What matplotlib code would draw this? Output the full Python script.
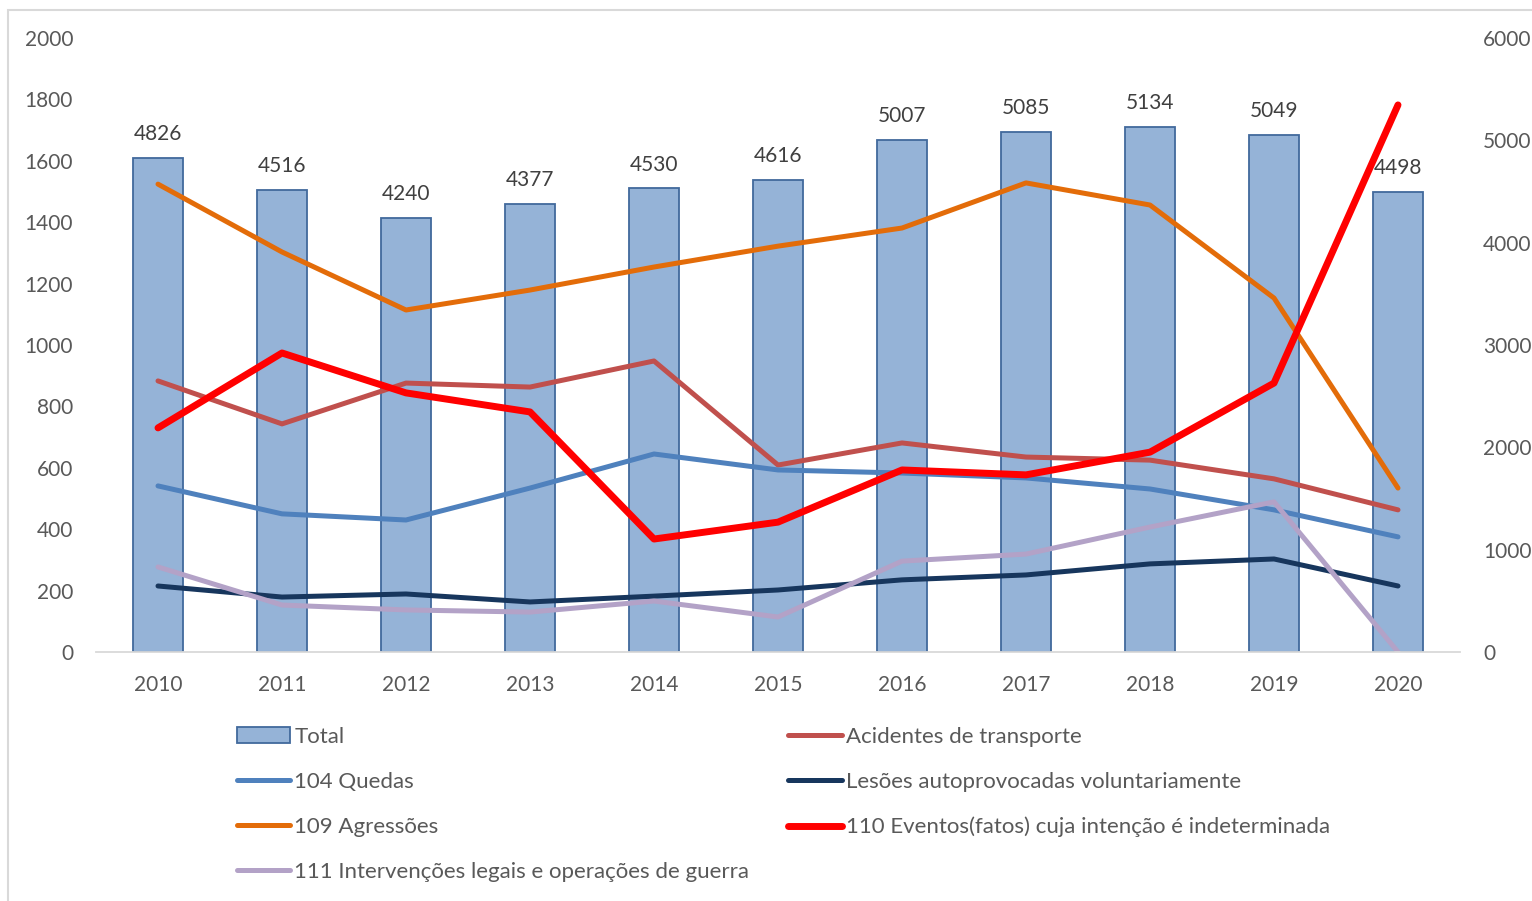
import matplotlib
matplotlib.use("Agg")
import matplotlib.pyplot as plt
from matplotlib.patches import Rectangle
import numpy as np

plt.rcParams['font.family'] = ['Lato', 'DejaVu Sans']

years = ["2010", "2011", "2012", "2013", "2014", "2015", "2016", "2017", "2018", "2019", "2020"]
total = [4826, 4516, 4240, 4377, 4530, 4616, 5007, 5085, 5134, 5049, 4498]
acidentes = [883, 743, 876, 863, 948, 609, 681, 635, 625, 564, 463]
quedas = [541, 450, 430, 534, 645, 593, 583, 567, 531, 463, 375]
lesoes = [215, 179, 189, 163, 182, 202, 235, 251, 287, 303, 215]
agressoes = [1524, 1303, 1114, 1179, 1254, 1322, 1381, 1528, 1456, 1153, 534]
eventos = [730, 974, 844, 782, 368, 423, 593, 577, 651, 876, 1782]
intervencoes = [277, 153, 137, 130, 166, 114, 296, 319, 407, 489, 0]

left_ticks = [0, 200, 400, 600, 800, 1000, 1200, 1400, 1600, 1800, 2000]
right_ticks = [0, 1000, 2000, 3000, 4000, 5000, 6000]

TXT = '#595959'
FS = 15
LFS = 16

fig = plt.figure(figsize=(15.32, 9.01), dpi=100)
ax = fig.add_axes([96/1532, 1-652/901, (1460-96)/1532, (652-38)/901])
ax2 = ax.twinx()

x = np.arange(len(years))
ax2.bar(x, total, width=0.4, color='#95B3D7', edgecolor='#41699C', linewidth=1.3, label='Total')
for xi, v in zip(x, total):
    ax2.annotate(str(v), (xi, v), xytext=(0, 10), textcoords='offset points',
                 ha='center', va='bottom', fontsize=FS, color='#404040')

ax.set_zorder(ax2.get_zorder() + 1)
ax.patch.set_visible(False)

series = [
    (acidentes, '#C0504D', 3.6, 'Acidentes de transporte'),
    (quedas, '#4F81BD', 3.6, '104 Quedas'),
    (lesoes, '#17365D', 3.6, 'Lesões autoprovocadas voluntariamente'),
    (agressoes, '#E36C09', 3.6, '109 Agressões'),
    (eventos, '#FF0000', 5.0, '110 Eventos(fatos) cuja intenção é indeterminada'),
    (intervencoes, '#B3A2C7', 3.6, '111 Intervenções legais e operações de guerra'),
]
handles = {}
for vals, col, lw, lab in series:
    ln, = ax.plot(x, vals, color=col, lw=lw, solid_capstyle='round', solid_joinstyle='round', label=lab)
    handles[lab] = ln

ax.set_xlim(-0.5, len(years) - 0.5)
ax.set_ylim(0, 2000)
ax2.set_ylim(0, 6000)
ax.set_yticks(left_ticks)
ax2.set_yticks(right_ticks)
ax.set_xticks(x)
ax.set_xticklabels(years)

for a in (ax, ax2):
    for s in a.spines.values():
        s.set_visible(False)
    a.tick_params(length=0, labelsize=FS, labelcolor=TXT)
ax.spines['bottom'].set_visible(True)
ax.spines['bottom'].set_color('#D9D9D9')
ax.spines['bottom'].set_linewidth(1.3)
ax.tick_params(axis='y', pad=16.5)
ax2.tick_params(axis='y', pad=16.5)
ax.tick_params(axis='x', pad=16.5)

# legend
total_handle = Rectangle((0, 0), 1, 1, facecolor='#95B3D7', edgecolor='#41699C', linewidth=1.3)
order = [total_handle, handles['104 Quedas'], handles['109 Agressões'],
         handles['111 Intervenções legais e operações de guerra'],
         handles['Acidentes de transporte'], handles['Lesões autoprovocadas voluntariamente'],
         handles['110 Eventos(fatos) cuja intenção é indeterminada']]
labels = ['Total', '104 Quedas', '109 Agressões', '111 Intervenções legais e operações de guerra',
          'Acidentes de transporte', 'Lesões autoprovocadas voluntariamente',
          '110 Eventos(fatos) cuja intenção é indeterminada']
leg = fig.legend(order, labels, ncol=2, loc='upper left',
                 bbox_to_anchor=(237/1532, 1-727/901), frameon=False,
                 fontsize=LFS, labelcolor=TXT, handlelength=2.4, handletextpad=0.18,
                 columnspacing=1.76, labelspacing=1.12, borderaxespad=0, borderpad=0)

# chart border
fig.patches.append(Rectangle((8/1532, -0.05), 1.1, 1 - 9.5/901 + 0.05, transform=fig.transFigure,
                             fill=False, edgecolor='#D9D9D9', linewidth=1.5))

fig.savefig('out.png', dpi=100)
